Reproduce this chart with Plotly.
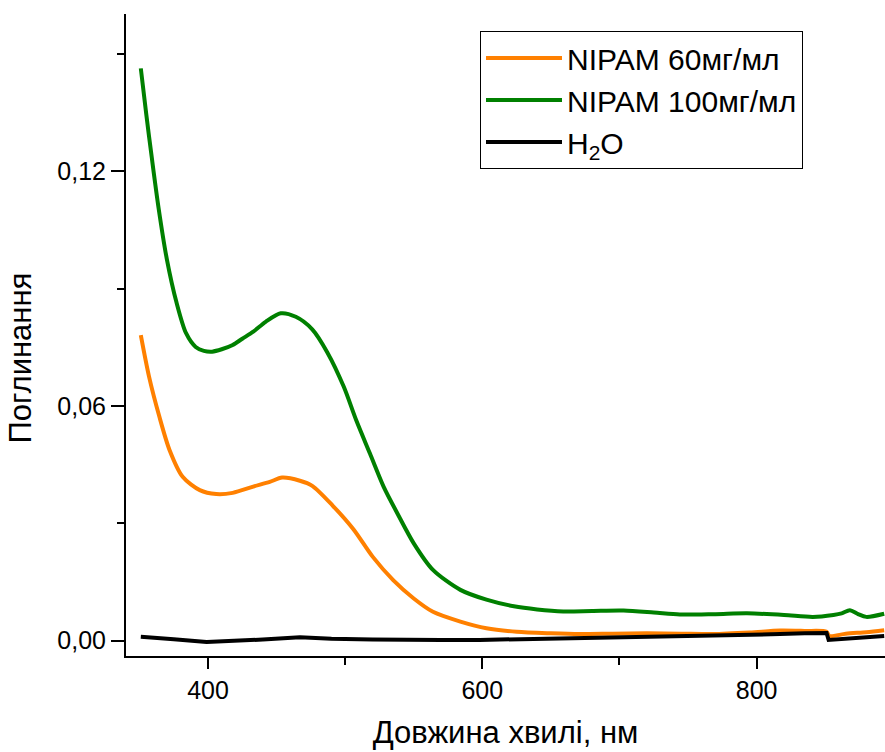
import plotly.graph_objects as go

# ---- data ----
green_wl = [351, 355, 359, 364, 370, 377, 384, 391, 397, 403, 410, 418, 425, 433, 442, 453,
            464, 476, 487, 499, 508, 518, 528, 538, 550, 564, 584, 603, 623, 640, 659, 680,
            703, 725, 744, 770, 793, 820, 841, 856, 862, 868, 874, 880, 893]
green = [0.1463, 0.1345, 0.1235, 0.1105, 0.0975, 0.0865, 0.0786, 0.0751, 0.0741, 0.0739,
         0.0745, 0.0756, 0.0772, 0.0790, 0.0815, 0.0837, 0.0828, 0.0796, 0.0737, 0.0649,
         0.0564, 0.0479, 0.0394, 0.0326, 0.0249, 0.0181, 0.0130, 0.0105, 0.0088, 0.0080,
         0.0075, 0.0076, 0.0077, 0.0072, 0.0067, 0.0068, 0.0070, 0.0066, 0.0061, 0.0066,
         0.0070, 0.0078, 0.0068, 0.0061, 0.0069]

orange_wl = [351, 357, 364.5, 372, 381.5, 394, 406, 418, 433, 445, 454, 467, 476, 491, 506,
             520, 535, 550, 564, 584, 603, 625, 650, 671, 695, 720, 745, 768, 795, 817, 835,
             851, 853, 865, 880, 893]
orange = [0.0781, 0.0675, 0.0573, 0.0487, 0.0419, 0.0385, 0.0375, 0.0378, 0.0394, 0.0406,
          0.0417, 0.0409, 0.0396, 0.0345, 0.0285, 0.0215, 0.0155, 0.0108, 0.0074, 0.0049,
          0.0032, 0.0023, 0.0019, 0.0017, 0.0018, 0.0019, 0.0018, 0.0017, 0.0021, 0.0026,
          0.0025, 0.0023, 0.0012, 0.0018, 0.0022, 0.0027]

h2o_wl = [351, 360, 375, 399, 420, 440, 467, 490, 520, 540, 570, 598, 630, 671, 700, 744,
          780, 817, 835, 851, 852.5, 870, 893]
h2o = [0.0010, 0.0007, 0.0004, -0.0003, -0.0001, 0.0003, 0.0009, 0.0005, 0.0003, 0.0002,
       0.0002, 0.0002, 0.0004, 0.0006, 0.0009, 0.0012, 0.0015, 0.0017, 0.0019, 0.0020,
       0.0002, 0.0006, 0.0012]

names = ["NIPAM 60мг/мл", "NIPAM 100мг/мл", "H<sub>2</sub>O"]
colors = ["#FF8000", "#008000", "#000000"]
x_title = "Довжина хвилі, нм"
y_title = "Поглинання"

FONT = "Arial, 'Liberation Sans', sans-serif"

fig = go.Figure()
for wl, vals, name, col, shape in [(orange_wl, orange, names[0], colors[0], "spline"),
                                   (green_wl, green, names[1], colors[1], "spline"),
                                   (h2o_wl, h2o, names[2], colors[2], "linear")]:
    fig.add_trace(go.Scatter(x=wl, y=vals, mode="lines", name=name,
                             line=dict(color=col, width=4, shape=shape, smoothing=0.8)))

fig.update_layout(
    width=885, height=752,
    margin=dict(l=126, r=0, t=14, b=96),
    paper_bgcolor="white", plot_bgcolor="white",
    separators=", ",
    font=dict(family=FONT, color="black", size=25),
    showlegend=True,
    legend=dict(x=0.4664, y=0.9735, xanchor="left", yanchor="top",
                bordercolor="black", borderwidth=1, bgcolor="white",
                font=dict(family=FONT, size=30, color="black"),
                itemwidth=76, tracegroupgap=0),
    annotations=[dict(text=y_title, textangle=-90, xref="paper", yref="paper",
                      x=-0.139, y=0.464, xanchor="center", yanchor="middle",
                      showarrow=False, font=dict(family=FONT, size=31, color="black"))],
)
fig.update_xaxes(
    range=[340.2, 893.6], showgrid=False, zeroline=False,
    showline=True, linecolor="black", linewidth=2,
    ticks="outside", ticklen=11, tickwidth=2, tickcolor="black",
    tick0=0, dtick=200, tickfont=dict(size=25),
    minor=dict(ticks="outside", ticklen=7, tickwidth=2, tickcolor="black", dtick=100),
    title=dict(text=x_title, font=dict(size=31), standoff=18),
)
fig.update_yaxes(
    range=[-0.0039, 0.1602], showgrid=False, zeroline=False,
    showline=True, linecolor="black", linewidth=2,
    ticks="outside", ticklen=13, tickwidth=2, tickcolor="black",
    tick0=0, dtick=0.06, tickformat=".2f", tickfont=dict(size=25),
    minor=dict(ticks="outside", ticklen=7, tickwidth=2, tickcolor="black", dtick=0.03),
)

fig.write_html("out.html")
